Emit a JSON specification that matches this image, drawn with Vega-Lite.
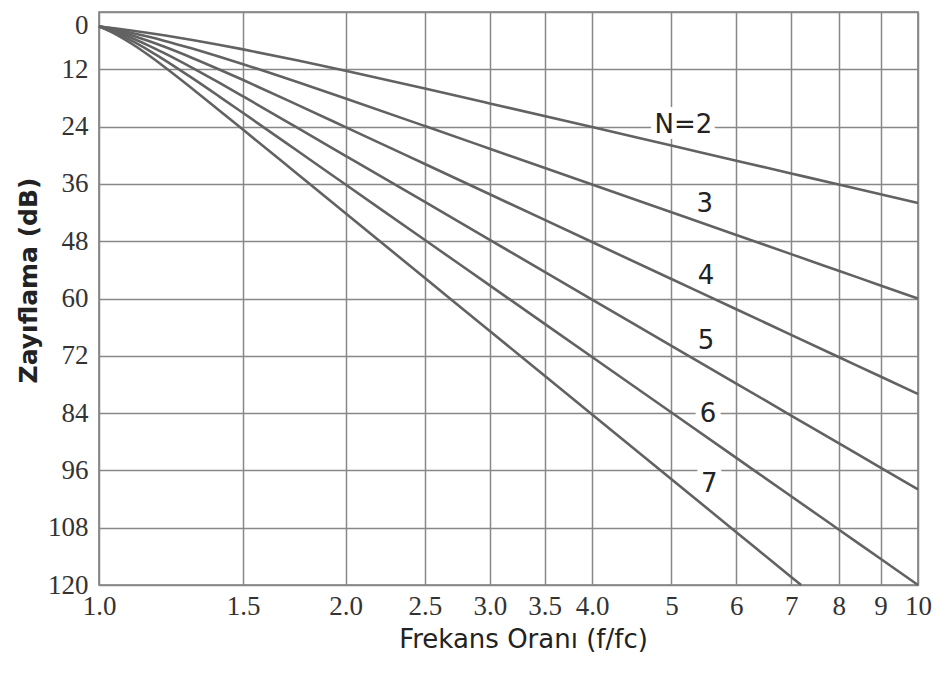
{
  "$schema": "https://vega.github.io/schema/vega-lite/v6.json",
  "width": 819,
  "height": 573,
  "autosize": {"type": "none"},
  "padding": {"left": 99, "top": 12, "right": 23, "bottom": 90},
  "background": "white",
  "config": {
    "view": {"stroke": "#7a7a7a", "strokeWidth": 1.6},
    "axis": {
      "grid": true,
      "gridColor": "#888888",
      "gridWidth": 1.5,
      "ticks": false,
      "domain": false,
      "labelFont": "Liberation Serif",
      "labelFontSize": 27,
      "labelColor": "#333333",
      "labelOverlap": false,
      "labelFlush": false,
      "titleFont": "DejaVu Sans",
      "titleColor": "#222222"
    }
  },
  "datasets": {
    "curves": [
      {"f": 1.0, "dB": 3.01, "N": "2"}, {"f": 1.05, "dB": 3.46, "N": "2"}, {"f": 1.1, "dB": 3.92, "N": "2"}, {"f": 1.15, "dB": 4.39, "N": "2"}, {"f": 1.2, "dB": 4.88, "N": "2"}, {"f": 1.3, "dB": 5.86, "N": "2"}, {"f": 1.4, "dB": 6.85, "N": "2"}, {"f": 1.5, "dB": 7.83, "N": "2"}, {"f": 1.75, "dB": 10.16, "N": "2"}, {"f": 2, "dB": 12.3, "N": "2"}, {"f": 2.5, "dB": 16.03, "N": "2"}, {"f": 3, "dB": 19.14, "N": "2"}, {"f": 4, "dB": 24.1, "N": "2"}, {"f": 5, "dB": 27.97, "N": "2"}, {"f": 6, "dB": 31.13, "N": "2"}, {"f": 7, "dB": 33.81, "N": "2"}, {"f": 8, "dB": 36.13, "N": "2"}, {"f": 9, "dB": 38.17, "N": "2"}, {"f": 10, "dB": 40.0, "N": "2"},
      {"f": 1.0, "dB": 3.01, "N": "3"}, {"f": 1.05, "dB": 3.69, "N": "3"}, {"f": 1.1, "dB": 4.43, "N": "3"}, {"f": 1.15, "dB": 5.2, "N": "3"}, {"f": 1.2, "dB": 6.0, "N": "3"}, {"f": 1.3, "dB": 7.66, "N": "3"}, {"f": 1.4, "dB": 9.31, "N": "3"}, {"f": 1.5, "dB": 10.93, "N": "3"}, {"f": 1.75, "dB": 14.73, "N": "3"}, {"f": 2, "dB": 18.13, "N": "3"}, {"f": 2.5, "dB": 23.89, "N": "3"}, {"f": 3, "dB": 28.63, "N": "3"}, {"f": 4, "dB": 36.13, "N": "3"}, {"f": 5, "dB": 41.94, "N": "3"}, {"f": 6, "dB": 46.69, "N": "3"}, {"f": 7, "dB": 50.71, "N": "3"}, {"f": 8, "dB": 54.19, "N": "3"}, {"f": 9, "dB": 57.26, "N": "3"}, {"f": 10, "dB": 60.0, "N": "3"},
      {"f": 1.0, "dB": 3.01, "N": "4"}, {"f": 1.05, "dB": 3.94, "N": "4"}, {"f": 1.1, "dB": 4.97, "N": "4"}, {"f": 1.15, "dB": 6.08, "N": "4"}, {"f": 1.2, "dB": 7.24, "N": "4"}, {"f": 1.3, "dB": 9.62, "N": "4"}, {"f": 1.4, "dB": 11.98, "N": "4"}, {"f": 1.5, "dB": 14.25, "N": "4"}, {"f": 1.75, "dB": 19.49, "N": "4"}, {"f": 2, "dB": 24.1, "N": "4"}, {"f": 2.5, "dB": 31.84, "N": "4"}, {"f": 3, "dB": 38.17, "N": "4"}, {"f": 4, "dB": 48.17, "N": "4"}, {"f": 5, "dB": 55.92, "N": "4"}, {"f": 6, "dB": 62.25, "N": "4"}, {"f": 7, "dB": 67.61, "N": "4"}, {"f": 8, "dB": 72.25, "N": "4"}, {"f": 9, "dB": 76.34, "N": "4"}, {"f": 10, "dB": 80.0, "N": "4"},
      {"f": 1.0, "dB": 3.01, "N": "5"}, {"f": 1.05, "dB": 4.2, "N": "5"}, {"f": 1.1, "dB": 5.56, "N": "5"}, {"f": 1.15, "dB": 7.03, "N": "5"}, {"f": 1.2, "dB": 8.57, "N": "5"}, {"f": 1.3, "dB": 11.7, "N": "5"}, {"f": 1.4, "dB": 14.76, "N": "5"}, {"f": 1.5, "dB": 17.68, "N": "5"}, {"f": 1.75, "dB": 24.32, "N": "5"}, {"f": 2, "dB": 30.11, "N": "5"}, {"f": 2.5, "dB": 39.79, "N": "5"}, {"f": 3, "dB": 47.71, "N": "5"}, {"f": 4, "dB": 60.21, "N": "5"}, {"f": 5, "dB": 69.9, "N": "5"}, {"f": 6, "dB": 77.82, "N": "5"}, {"f": 7, "dB": 84.51, "N": "5"}, {"f": 8, "dB": 90.31, "N": "5"}, {"f": 9, "dB": 95.42, "N": "5"}, {"f": 10, "dB": 100.0, "N": "5"},
      {"f": 1.0, "dB": 3.01, "N": "6"}, {"f": 1.05, "dB": 4.47, "N": "6"}, {"f": 1.1, "dB": 6.17, "N": "6"}, {"f": 1.15, "dB": 8.03, "N": "6"}, {"f": 1.2, "dB": 9.96, "N": "6"}, {"f": 1.3, "dB": 13.86, "N": "6"}, {"f": 1.4, "dB": 17.61, "N": "6"}, {"f": 1.5, "dB": 21.16, "N": "6"}, {"f": 1.75, "dB": 29.17, "N": "6"}, {"f": 2, "dB": 36.13, "N": "6"}, {"f": 2.5, "dB": 47.75, "N": "6"}, {"f": 3, "dB": 57.26, "N": "6"}, {"f": 4, "dB": 72.25, "N": "6"}, {"f": 5, "dB": 83.88, "N": "6"}, {"f": 6, "dB": 93.38, "N": "6"}, {"f": 7, "dB": 101.41, "N": "6"}, {"f": 8, "dB": 108.37, "N": "6"}, {"f": 9, "dB": 114.51, "N": "6"}, {"f": 10, "dB": 120.0, "N": "6"},
      {"f": 1.0, "dB": 3.01, "N": "7"}, {"f": 1.05, "dB": 4.74, "N": "7"}, {"f": 1.1, "dB": 6.81, "N": "7"}, {"f": 1.15, "dB": 9.07, "N": "7"}, {"f": 1.2, "dB": 11.41, "N": "7"}, {"f": 1.3, "dB": 16.06, "N": "7"}, {"f": 1.4, "dB": 20.5, "N": "7"}, {"f": 1.5, "dB": 24.67, "N": "7"}, {"f": 1.75, "dB": 34.03, "N": "7"}, {"f": 2, "dB": 42.14, "N": "7"}, {"f": 2.5, "dB": 55.71, "N": "7"}, {"f": 3, "dB": 66.8, "N": "7"}, {"f": 4, "dB": 84.29, "N": "7"}, {"f": 5, "dB": 97.86, "N": "7"}, {"f": 6, "dB": 108.94, "N": "7"}, {"f": 7, "dB": 118.31, "N": "7"}, {"f": 7.2, "dB": 120.0, "N": "7"}
    ],
    "labels": [
      {"f": 5.17, "dB": 23.6, "label": "N=2"},
      {"f": 5.49, "dB": 40.2, "label": "3"},
      {"f": 5.51, "dB": 55.3, "label": "4"},
      {"f": 5.51, "dB": 68.9, "label": "5"},
      {"f": 5.54, "dB": 84.2, "label": "6"},
      {"f": 5.56, "dB": 98.8, "label": "7"}
    ]
  },
  "encoding": {
    "x": {
      "field": "f",
      "type": "quantitative",
      "scale": {"type": "log", "domain": [1, 10], "nice": false},
      "axis": {
        "values": [1, 1.5, 2, 2.5, 3, 3.5, 4, 5, 6, 7, 8, 9, 10],
        "labelExpr": "datum.value < 4.5 ? format(datum.value, '.1f') : format(datum.value, 'd')",
        "labelPadding": 8,
        "title": "Frekans Oranı (f/fc)",
        "titleFontSize": 26,
        "titleFontWeight": "normal",
        "titlePadding": 7,
        "titleX": 424
      }
    },
    "y": {
      "field": "dB",
      "type": "quantitative",
      "scale": {"domain": [0, 120], "reverse": true, "nice": false},
      "axis": {
        "values": [0, 12, 24, 36, 48, 60, 72, 84, 96, 108, 120],
        "labelPadding": 11,
        "labelBaseline": {"condition": {"test": "datum.value == 0", "value": "top"}, "value": "middle"},
        "title": "Zayıflama (dB)",
        "titleFontSize": 25,
        "titleFontWeight": "bold",
        "titlePadding": 6,
        "titleY": 268
      }
    }
  },
  "layer": [
    {
      "data": {"name": "curves"},
      "mark": {"type": "line", "color": "#626262", "strokeWidth": 2.6, "interpolate": "monotone"},
      "encoding": {"detail": {"field": "N"}}
    },
    {
      "data": {"name": "labels"},
      "mark": {"type": "text", "font": "DejaVu Sans", "fontSize": 26, "fill": "white", "stroke": "white", "strokeWidth": 12, "strokeJoin": "round"},
      "encoding": {"text": {"field": "label"}}
    },
    {
      "data": {"name": "labels"},
      "mark": {"type": "text", "font": "DejaVu Sans", "fontSize": 26, "color": "#222222"},
      "encoding": {"text": {"field": "label"}}
    }
  ]
}
